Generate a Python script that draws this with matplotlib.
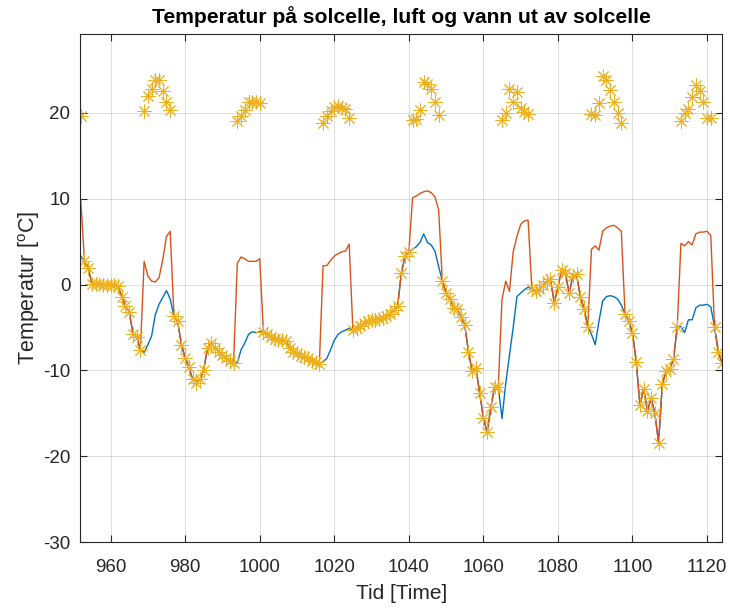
import numpy as np
import matplotlib
matplotlib.use("Agg")
import matplotlib.pyplot as plt

plt.rcParams['font.family'] = ['Liberation Sans', 'DejaVu Sans']
plt.rcParams['mathtext.fontset'] = 'custom'
plt.rcParams['mathtext.rm'] = 'Liberation Sans'
plt.rcParams['axes.unicode_minus'] = False

# Tid i timer (en måling per time)
tid = np.arange(952, 1125)

# luft (stjerner)
luft = [19.6, 2.7, 1.9, 0.1, 0.1, 0.1, 0.0, 0.0, 0.0, -0.1,
        -0.2, -1.4, -2.5, -3.2, -5.7, -6.1, -7.6, 20.2, 21.9, 22.8,
        23.8, 23.8, 22.5, 21.2, 20.3, -3.7, -4.3, -7.0, -8.5, -9.6,
        -11.0, -11.4, -11.0, -9.9, -7.4, -6.8, -7.4, -7.8, -8.2, -8.5,
        -8.9, -9.1, 19.0, 19.6, 20.3, 21.2, 21.3, 21.2, 21.1, -5.5,
        -5.8, -6.1, -6.3, -6.4, -6.5, -6.6, -7.4, -7.8, -8.0, -8.3,
        -8.4, -8.6, -8.9, -9.0, -9.2, 18.8, 19.6, 20.2, 20.7, 20.8,
        20.6, 20.4, 19.4, -5.3, -5.0, -4.8, -4.5, -4.3, -4.1, -4.1,
        -4.0, -3.9, -3.7, -3.4, -3.0, -2.5, 1.4, 3.3, 3.8, 19.1,
        19.3, 20.3, 23.6, 23.3, 22.8, 21.3, 19.7, 0.4, -1.0, -1.7,
        -2.7, -2.9, -3.8, -4.7, -7.8, -10.1, -9.7, -12.6, -15.5, -17.2,
        -14.3, -11.9, -11.9, 19.2, 20.0, 22.7, 21.3, 22.4, 20.5, 20.1,
        19.8, -0.5, -0.7, -0.5, -0.1, 0.4, 0.6, -2.1, -0.3, 1.7,
        1.3, -1.0, 1.0, 1.2, -1.4, -2.8, -4.9, 19.8, 19.7, 21.1,
        24.3, 23.8, 22.6, 21.2, 20.0, 18.8, -3.4, -4.3, -5.6, -9.0,
        -14.0, -12.1, -14.7, -13.2, -15.0, -18.4, -11.6, -10.1, -9.8, -8.7,
        -4.9, 19.0, 20.0, 20.4, 21.8, 23.2, 22.5, 21.2, 19.4, 19.4,
        -4.9, -7.8, -9.1]

# solcelle (oransje)
solcelle = [9.9, 2.7, 1.9, 0.1, 0.1, 0.1, 0.0, 0.0, 0.0, -0.1,
            -0.2, -1.4, -2.5, -3.2, -5.7, -6.1, -7.6, 2.7, 1.0, 0.4,
            0.3, 0.8, 2.9, 5.6, 6.2, -3.7, -4.3, -7.0, -8.5, -9.6,
            -11.0, -11.4, -11.0, -9.9, -7.4, -6.8, -7.4, -7.8, -8.2, -8.5,
            -8.9, -9.1, 2.5, 3.2, 3.0, 2.7, 2.7, 2.7, 3.0, -5.5,
            -5.8, -6.1, -6.3, -6.4, -6.5, -6.6, -7.4, -7.8, -8.0, -8.3,
            -8.4, -8.6, -8.9, -9.0, -9.2, 2.2, 2.2, 2.8, 3.3, 3.6,
            3.8, 3.9, 4.7, -5.3, -5.0, -4.8, -4.5, -4.3, -4.1, -4.1,
            -4.0, -3.9, -3.7, -3.4, -3.0, -2.5, 1.4, 3.3, 3.8, 10.1,
            10.3, 10.6, 10.8, 10.9, 10.7, 10.2, 8.7, 0.4, -1.0, -1.7,
            -2.7, -2.9, -3.8, -4.7, -7.8, -10.1, -9.7, -12.6, -15.5, -17.2,
            -14.3, -11.9, -11.9, -1.7, 0.4, -0.8, 3.8, 5.6, 7.0, 7.4,
            7.5, -0.5, -0.7, -0.5, -0.1, 0.4, 0.6, -2.1, -0.3, 1.7,
            1.3, -1.0, 1.0, 1.2, -1.4, -2.8, -4.9, 4.1, 4.5, 4.0,
            6.2, 6.6, 6.8, 6.9, 6.6, 6.2, -3.4, -4.3, -5.6, -9.0,
            -14.0, -12.1, -14.7, -13.2, -15.0, -18.4, -11.6, -10.1, -9.8, -8.7,
            -4.9, 4.8, 4.5, 5.0, 4.6, 5.9, 6.1, 6.1, 6.2, 5.7,
            -4.9, -7.8, -9.1]

# vann ut (blå)
vann_ut = [3.3, 2.7, 1.9, 0.1, 0.1, 0.1, 0.0, 0.0, 0.0, -0.1,
           -0.2, -1.4, -2.5, -3.2, -5.7, -6.1, -7.6, -7.9, -7.0, -6.0,
           -3.5, -2.3, -1.5, -0.7, -1.7, -3.7, -4.3, -7.0, -8.5, -9.6,
           -11.0, -11.4, -11.0, -9.9, -7.4, -6.8, -7.4, -7.8, -8.2, -8.5,
           -8.9, -9.1, -9.1, -7.6, -6.8, -5.8, -5.5, -5.6, -5.5, -5.5,
           -5.8, -6.1, -6.3, -6.4, -6.5, -6.6, -7.4, -7.8, -8.0, -8.3,
           -8.4, -8.6, -8.9, -9.0, -9.2, -9.0, -8.6, -7.6, -6.5, -5.8,
           -5.5, -5.3, -5.1, -5.3, -5.0, -4.8, -4.5, -4.3, -4.1, -4.1,
           -4.0, -3.9, -3.7, -3.4, -3.0, -2.5, 1.4, 3.3, 3.8, 4.1,
           4.4, 4.9, 5.9, 4.9, 4.6, 3.9, 2.1, 0.4, -1.0, -1.7,
           -2.7, -2.9, -3.8, -4.7, -7.8, -10.1, -9.7, -12.6, -15.5, -17.2,
           -14.3, -11.9, -11.9, -15.6, -11.5, -8.2, -5.0, -1.4, -1.0, -0.6,
           -0.3, -0.5, -0.7, -0.5, -0.1, 0.4, 0.6, -2.1, -0.3, 1.7,
           1.3, -1.0, 1.0, 1.2, -1.4, -2.8, -4.9, -5.8, -7.0, -4.3,
           -1.9, -1.4, -1.3, -1.4, -1.7, -2.4, -3.4, -4.3, -5.6, -9.0,
           -14.0, -12.1, -14.7, -13.2, -15.0, -18.4, -11.6, -10.1, -9.8, -8.7,
           -4.9, -4.9, -5.6, -4.1, -4.1, -2.7, -2.4, -2.4, -2.3, -2.6,
           -4.9, -7.8, -9.1]

fig = plt.figure(figsize=(7.3, 6.08), dpi=100)
ax = fig.add_axes([0.1096, 0.108, 0.8799, 0.836])

ax.plot(tid, vann_ut, color='#0072BD', lw=1.0)
ax.plot(tid, solcelle, color='#D95319', lw=1.0)
ax.plot(tid, luft, linestyle='none', marker=(8, 2, 0), markersize=10,
        markeredgewidth=0.7, color='#EDB120')

ax.set_xlim(951.8, 1124.1)
ax.set_ylim(-30, 29.15)
ax.set_xticks(np.arange(960, 1121, 20))
ax.set_yticks(np.arange(-30, 21, 10))

ax.grid(True, color='#262626', alpha=0.15, lw=0.7)
ax.set_axisbelow(True)
for s in ax.spines.values():
    s.set_color('#262626')
    s.set_linewidth(0.8)
ax.tick_params(direction='in', length=5, width=0.8, colors='#262626',
               labelsize=13.5, top=True, right=True, pad=7)
ax.tick_params(axis='x', pad=12)

ax.set_title('Temperatur på solcelle, luft og vann ut av solcelle',
             fontsize=15.2, fontweight='bold', pad=8)
ax.set_xlabel('Tid [Time]', fontsize=15, color='#262626', labelpad=6)
ax.set_ylabel(r'Temperatur [$^\mathregular{o}$C]', fontsize=15.5,
              color='#262626', labelpad=1)

fig.savefig('out.png', dpi=100)
